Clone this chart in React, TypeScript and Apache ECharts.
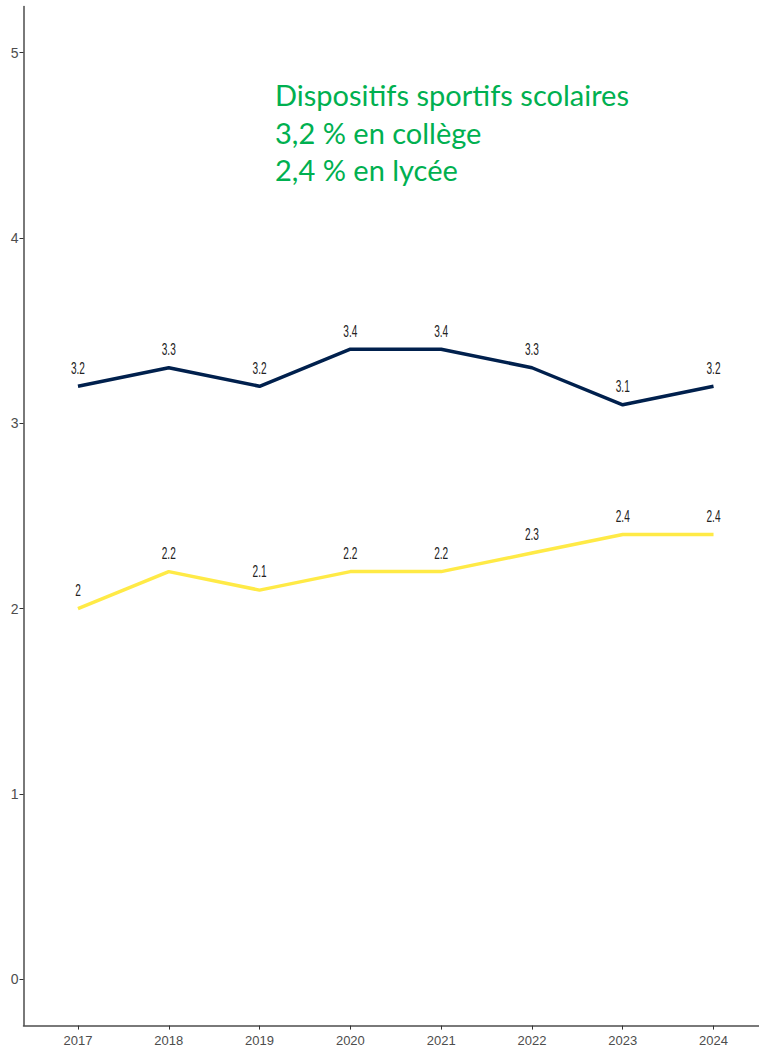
import React, { useEffect, useRef } from "react";
import * as echarts from "echarts";

const years = [2017, 2018, 2019, 2020, 2021, 2022, 2023, 2024];
const college = [3.2, 3.3, 3.2, 3.4, 3.4, 3.3, 3.1, 3.2];
const lycee = [2, 2.2, 2.1, 2.2, 2.2, 2.3, 2.4, 2.4];
const yTicks = [0, 1, 2, 3, 4, 5];
const annotation = ["Dispositifs sportifs scolaires", "3,2 % en collège", "2,4 % en lycée"];

const SANS = '"Liberation Sans", Arial, sans-serif';

function labelSeries(values: number[]) {
  return {
    type: "custom",
    silent: true,
    z: 5,
    data: years.map((y, i) => [y, values[i]]),
    renderItem: (_params: any, api: any) => {
      const pt = api.coord([api.value(0), api.value(1)]);
      return {
        type: "text",
        x: pt[0],
        y: pt[1] - 18,
        scaleX: 0.84,
        scaleY: 1.3,
        style: {
          text: String(api.value(1)),
          fontFamily: SANS,
          fontSize: 12,
          fill: "#222",
          align: "center",
          verticalAlign: "middle",
        },
      };
    },
  };
}

export default function App() {
  const ref = useRef<HTMLDivElement>(null);
  useEffect(() => {
    if (!ref.current) return;
    const chart = echarts.init(ref.current, null, { renderer: "svg" });
    chart.setOption({
      animation: false,
      backgroundColor: "#fff",
      grid: { left: 23.5, right: 0, top: 6.4, bottom: 30.4, containLabel: false },
      xAxis: {
        type: "value",
        min: 2016.4,
        max: 2024.6,
        splitLine: { show: false },
        axisLine: { show: true, onZero: false, lineStyle: { color: "#4d4d4d", width: 1.5 } },
        axisTick: { show: true, customValues: years, length: 4, lineStyle: { color: "#333" } },
        axisLabel: {
          customValues: years,
          fontFamily: SANS,
          fontSize: 13,
          color: "#4d4d4d",
          margin: 8,
          formatter: (v: number) => String(v),
        },
      },
      yAxis: {
        type: "value",
        min: -0.25,
        max: 5.25,
        splitLine: { show: false },
        axisLine: { show: true, onZero: false, lineStyle: { color: "#4d4d4d", width: 1.5 } },
        axisTick: { show: true, customValues: yTicks, length: 4, lineStyle: { color: "#333" } },
        axisLabel: {
          customValues: yTicks,
          fontFamily: SANS,
          fontSize: 14,
          color: "#4d4d4d",
          margin: 5,
          formatter: (v: number) => String(v),
        },
      },
      graphic: [
        {
          type: "text",
          left: 275,
          top: 76,
          style: {
            text: annotation.join("\n"),
            fontFamily: "Lato, 'Open Sans', sans-serif",
            fontSize: 29,
            lineHeight: 37.5,
            fill: "#00b050",
          },
        },
      ],
      series: [
        {
          name: "Collège",
          type: "line",
          data: years.map((y, i) => [y, college[i]]),
          symbol: "none",
          lineStyle: { color: "#00204D", width: 3.5 },
        },
        {
          name: "Lycée",
          type: "line",
          data: years.map((y, i) => [y, lycee[i]]),
          symbol: "none",
          lineStyle: { color: "#FFEA46", width: 3.5 },
        },
        labelSeries(college),
        labelSeries(lycee),
      ],
    });
    return () => chart.dispose();
  }, []);
  return (
    <div
      style={{
        position: "fixed",
        left: 0,
        top: 0,
        width: 759,
        height: 1056,
        overflow: "hidden",
        background: "#fff",
      }}
    >
      <div ref={ref} style={{ width: 768, height: 1056 }} />
    </div>
  );
}
